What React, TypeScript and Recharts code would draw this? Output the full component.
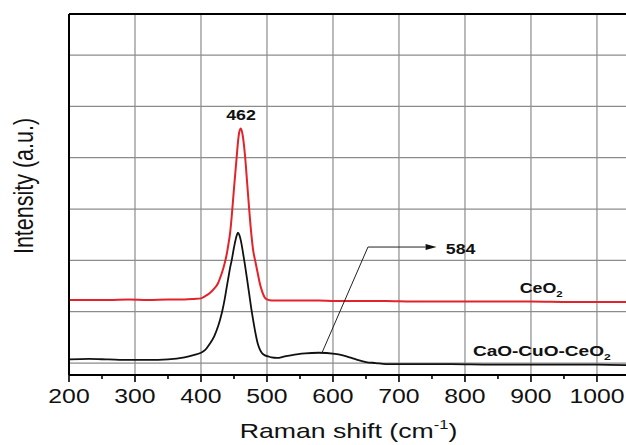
import React from 'react';
import { LineChart, Line, XAxis, YAxis, CartesianGrid, ReferenceLine, ReferenceDot } from 'recharts';

const ramanShift = [200, 230, 260, 290, 320, 350, 375, 390, 400, 406, 413, 420, 426, 429, 432, 436, 439, 442, 444, 446.5, 450, 454, 456, 458, 460.5, 463, 465.5, 467, 470, 473, 476, 479, 482, 486, 489, 492, 497, 502, 507, 515, 527, 545, 558, 578, 603, 615, 628, 640, 650, 665, 680, 720, 780, 840, 900, 960, 1000, 1044];
const ceo2 = [1.23, 1.23, 1.23, 1.24, 1.23, 1.24, 1.24, 1.25, 1.26, 1.3, 1.36, 1.45, 1.56, 1.66, 1.77, 1.95, 2.12, 2.35, 2.52, 2.85, 3.4, 4.0, 4.3, 4.5, 4.57, 4.45, 4.2, 4.0, 3.5, 3.0, 2.55, 2.2, 2.0, 1.75, 1.56, 1.42, 1.27, 1.23, 1.22, 1.22, 1.22, 1.22, 1.22, 1.22, 1.21, 1.21, 1.21, 1.21, 1.21, 1.21, 1.21, 1.2, 1.2, 1.2, 1.2, 1.19, 1.19, 1.19];
const caoCuoCeo2 = [0.07, 0.08, 0.07, 0.06, 0.06, 0.07, 0.11, 0.16, 0.2, 0.25, 0.37, 0.52, 0.72, 0.85, 1.0, 1.25, 1.48, 1.7, 1.85, 2.0, 2.25, 2.48, 2.54, 2.5, 2.38, 2.2, 2.0, 1.88, 1.62, 1.35, 1.08, 0.84, 0.62, 0.38, 0.27, 0.2, 0.15, 0.13, 0.11, 0.1, 0.13, 0.17, 0.19, 0.2, 0.18, 0.15, 0.1, 0.05, 0.02, 0.0, -0.02, -0.02, -0.02, -0.03, -0.03, -0.03, -0.03, -0.04];

const xTicks = [200, 250, 300, 350, 400, 450, 500, 550, 600, 650, 700, 750, 800, 850, 900, 950, 1000];
const xGrid = [300, 400, 500, 600, 700, 800, 900, 1000];
const yGrid = [0, 1, 2, 3, 4, 5, 6];
const xDomain = [200, 1044];
const yDomain = [-0.233, 6.8];

const peakLabel = { x: 460.6, y: 4.73, text: '462' };
const shoulderLabel = { x: 771, y: 2.12, text: '584' };
const arrowPath = [
  { x: 583, y: 0.19 },
  { x: 653, y: 2.26 },
  { x: 757, y: 2.26 },
];
const ceo2Label = { x: 883, y: 1.36 };
const compositeLabel = { x: 812, y: 0.14 };

const data = ramanShift.map((x, i) => ({ x, ceo2: ceo2[i], comp: caoCuoCeo2[i] }));

const FONT = "'Liberation Sans', Arial, sans-serif";
const SX = 1.27;
const GRID = '#8c8c8c';

const XTick = (props: any) => {
  const { x, y, payload } = props;
  const v = payload.value;
  const major = v % 100 === 0;
  return (
    <g>
      <line x1={x} x2={x} y1={y} y2={y + (major ? 7 : 4)} stroke="#000" strokeWidth={1.6} />
      {major && (
        <text transform={`translate(${x},${y + 28}) scale(${SX},1)`} textAnchor="middle" fontSize={19.5} fontFamily={FONT} fill="#111">
          {v}
        </text>
      )}
    </g>
  );
};

const XLabel = (props: any) => {
  const vb = props.viewBox || {};
  const cx = vb.x + vb.width / 2 + 1;
  const cy = vb.y + 63;
  return (
    <text transform={`translate(${cx},${cy}) scale(${SX},1)`} textAnchor="middle" fontSize={21} fontFamily={FONT} fill="#111">
      Raman shift (cm
      <tspan dy={-9} fontSize={13}>-1</tspan>
      <tspan dy={9}>)</tspan>
    </text>
  );
};

const YLabel = () => (
  <text transform={`translate(25,186) rotate(-90) scale(1,${SX})`} textAnchor="middle" dy="0.3em" fontSize={21.5} fontFamily={FONT} fill="#111">
    Intensity (a.u.)
  </text>
);

const textShape = (content: React.ReactNode, anchor: string, size: number) => (p: any) => (
  <text transform={`translate(${p.cx},${p.cy}) scale(${SX},1)`} textAnchor={anchor} fontSize={size} fontWeight="bold" fontFamily={FONT} fill="#111">
    {content}
  </text>
);

const plainSegment = (p: any) => (
  <line x1={p.x1} y1={p.y1} x2={p.x2} y2={p.y2} stroke="#222" strokeWidth={1} />
);

const arrowSegment = (p: any) => {
  const dx = p.x2 - p.x1;
  const dy = p.y2 - p.y1;
  const len = Math.sqrt(dx * dx + dy * dy) || 1;
  const ux = dx / len;
  const uy = dy / len;
  const hl = 11;
  const hw = 3;
  const bx = p.x2 - ux * hl;
  const by = p.y2 - uy * hl;
  return (
    <g>
      <line x1={p.x1} y1={p.y1} x2={bx} y2={by} stroke="#222" strokeWidth={1} />
      <polygon
        points={`${p.x2},${p.y2} ${bx - uy * hw},${by + ux * hw} ${bx + uy * hw},${by - ux * hw}`}
        fill="#111"
      />
    </g>
  );
};

export default function App() {
  return (
    <div style={{ position: 'absolute', left: 0, top: 0, width: 626, height: 445, background: '#fff' }}>
      <LineChart width={626} height={445} data={data} margin={{ top: 14, right: 0, bottom: 0, left: 0 }}>
        <CartesianGrid stroke={GRID} strokeWidth={1.2} horizontal={false} verticalValues={xGrid} />
        {yGrid.map((v) => (
          <ReferenceLine key={'g' + v} y={v} stroke={GRID} strokeWidth={1.2} />
        ))}
        <ReferenceLine y={yDomain[1]} stroke="#000" strokeWidth={2} />
        <XAxis
          dataKey="x"
          type="number"
          domain={xDomain}
          allowDataOverflow
          ticks={xTicks}
          interval={0}
          height={70}
          tickSize={0}
          tickMargin={0}
          tickLine={false}
          tick={<XTick />}
          axisLine={{ stroke: '#000', strokeWidth: 2 }}
          label={<XLabel />}
        />
        <YAxis
          type="number"
          domain={yDomain}
          allowDataOverflow
          ticks={yGrid}
          width={69}
          tick={false}
          tickLine={false}
          axisLine={{ stroke: '#000', strokeWidth: 2 }}
          label={<YLabel />}
        />
        <Line type="monotone" dataKey="ceo2" stroke="#e3232a" strokeWidth={2} dot={false} isAnimationActive={false} />
        <Line type="monotone" dataKey="comp" stroke="#111" strokeWidth={1.8} dot={false} isAnimationActive={false} />
        <ReferenceLine segment={[arrowPath[0], arrowPath[1]]} shape={plainSegment} />
        <ReferenceLine segment={[arrowPath[1], arrowPath[2]]} shape={arrowSegment} />
        <ReferenceDot x={peakLabel.x} y={peakLabel.y} r={0} shape={textShape(peakLabel.text, 'middle', 14)} />
        <ReferenceDot x={shoulderLabel.x} y={shoulderLabel.y} r={0} shape={textShape(shoulderLabel.text, 'start', 14)} />
        <ReferenceDot
          x={ceo2Label.x}
          y={ceo2Label.y}
          r={0}
          shape={textShape(<>CeO<tspan dy={4} fontSize={9}>2</tspan></>, 'start', 14)}
        />
        <ReferenceDot
          x={compositeLabel.x}
          y={compositeLabel.y}
          r={0}
          shape={textShape(<>CaO-CuO-CeO<tspan dy={4} fontSize={9.5}>2</tspan></>, 'start', 15)}
        />
      </LineChart>
    </div>
  );
}
